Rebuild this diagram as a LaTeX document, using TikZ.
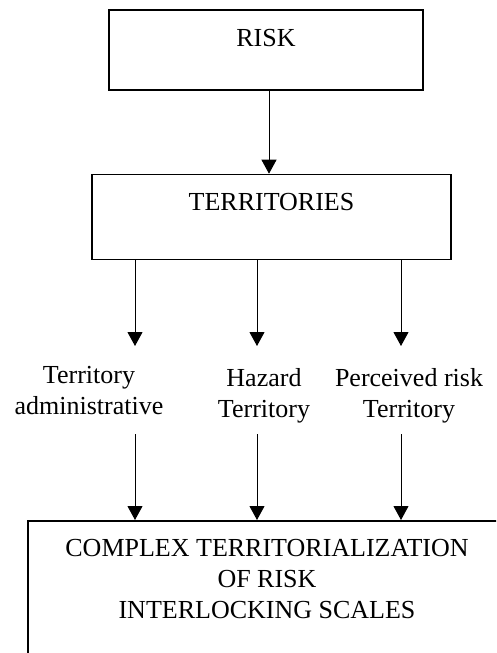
\documentclass[tikz,border=0pt]{standalone}
\usepackage{fontspec}
\setmainfont{Liberation Serif}
\usetikzlibrary{arrows.meta}
\begin{document}
\begin{tikzpicture}[x=1pt,y=-1pt,
  boxnode/.style={draw, line width=1.6pt, inner sep=0pt, align=center},
  arr/.style={line width=1pt, -{Triangle[width=15pt,length=14pt]}},
  lbl/.style={inner sep=0pt, align=center, anchor=base},
  font=\fontsize{26}{31}\selectfont]
\useasboundingbox (0,0) rectangle (496,653);
\clip (0,0) rectangle (496,653);
\fill[white] (0,0) rectangle (496,653);
% boxes
\node[boxnode, minimum width=314pt, text height=36.5pt, text depth=43.5pt, anchor=base] (risk) at (266,46.5) {RISK};
\node[boxnode, minimum width=359pt, text height=35.5pt, text depth=49.5pt, anchor=base] (terr) at (271.5,210) {TERRITORIES};
\node[boxnode, anchor=north west, minimum width=520pt, minimum height=200pt] (cplx) at (27,520) {};
% labels (base anchor = baseline of last line)
\node[lbl] (adm) at (89,414) {Territory\\administrative};
\node[lbl] (haz) at (264,417) {Hazard\\Territory};
\node[lbl] (per) at (409,417) {Perceived risk\\Territory};
\node[lbl] (cplxtxt) at (267,618) {COMPLEX TERRITORIALIZATION\\OF RISK\\INTERLOCKING SCALES};
% connector coordinates
\coordinate (r0) at (269,90);
\coordinate (t1) at (135,346);
\coordinate (t2) at (257,346);
\coordinate (t3) at (401,346);
\coordinate (b1) at (135,434);
\coordinate (b2) at (257,434);
\coordinate (b3) at (401,434);
% connectors
\draw[arr] (risk.south -| r0) -- (terr.north -| r0);
\draw[arr] (terr.south -| t1) -- (t1);
\draw[arr] (terr.south -| t2) -- (t2);
\draw[arr] (terr.south -| t3) -- (t3);
\draw[arr] (b1) -- (b1 |- cplx.north);
\draw[arr] (b2) -- (b2 |- cplx.north);
\draw[arr] (b3) -- (b3 |- cplx.north);
\end{tikzpicture}
\end{document}
